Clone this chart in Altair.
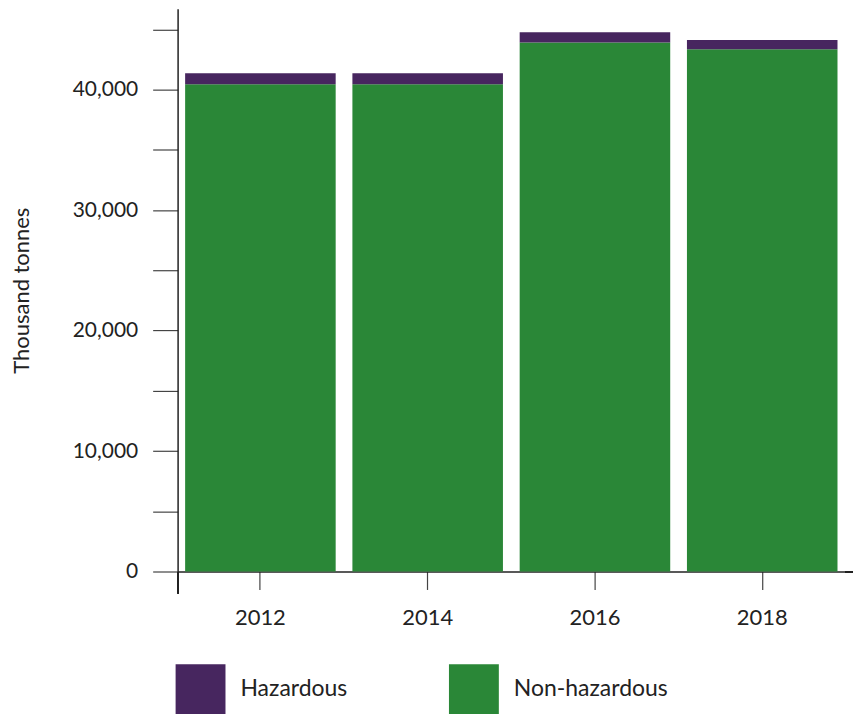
import altair as alt
import pandas as pd

years = ["2012", "2014", "2016", "2018"]
non_hazardous = [40450, 40450, 43900, 43350]
hazardous = [900, 900, 850, 760]
categories = ["Hazardous", "Non-hazardous"]
colors = ["#47265f", "#2a8737"]
y_ticks = [0, 5000, 10000, 15000, 20000, 25000, 30000, 35000, 40000, 45000]

rows = []
for i, yr in enumerate(years):
    rows.append({"year": yr, "type": "Non-hazardous", "value": non_hazardous[i], "ord": 0})
    rows.append({"year": yr, "type": "Hazardous", "value": hazardous[i], "ord": 1})
df = pd.DataFrame(rows)

FONT = "Lato"
W, H = 669, 564

bars = alt.Chart(df).mark_bar().encode(
    x=alt.X("year:N", sort=years,
            scale=alt.Scale(paddingInner=0.1, paddingOuter=0.045),
            axis=alt.Axis(title=None, labelAngle=0, labelFontSize=22, labelFont=FONT,
                          labelColor="#222", tickSize=18, tickColor="#444", tickWidth=1.2,
                          domainColor="#222", domainWidth=1.5, labelPadding=18)),
    y=alt.Y("value:Q", stack="zero",
            scale=alt.Scale(domain=[0, 46700], nice=False),
            axis=alt.Axis(title="Thousand tonnes", values=y_ticks,
                          labelExpr="datum.value % 10000 == 0 ? format(datum.value, ',') : ''",
                          labelFontSize=21, labelFont=FONT, labelColor="#222",
                          titleFontSize=22, titleFont=FONT, titleFontWeight="normal",
                          titleColor="#222", titlePadding=39,
                          tickSize=25, tickColor="#444", tickWidth=1.2,
                          domainColor="#222", domainWidth=1.5, labelPadding=15,
                          grid=False)),
    color=alt.Color("type:N",
                    scale=alt.Scale(domain=categories, range=colors),
                    legend=alt.Legend(title=None, orient="none", legendX=-2, legendY=657,
                                      direction="horizontal", columns=2, gridAlign="all",
                                      symbolType="square", symbolSize=2500,
                                      symbolStrokeWidth=0, symbolOpacity=1,
                                      labelFontSize=23, labelFont=FONT, labelColor="#222",
                                      labelOffset=15, labelLimit=300, columnPadding=54,
                                      padding=0)),
    order=alt.Order("ord:Q"),
)

ext_y = alt.Chart(df).mark_rule(color="#222", strokeWidth=1.5).encode(
    x=alt.value(0.5), y=alt.value(H + 0.5), y2=alt.value(H + 22)
)
ext_x = alt.Chart(df).mark_rule(color="#222", strokeWidth=1.5).encode(
    x=alt.value(W), x2=alt.value(W + 8), y=alt.value(H + 0.5)
)

chart = alt.layer(bars, ext_y, ext_x).properties(
    width=W, height=H, padding={"left": 2, "top": 0, "right": 0, "bottom": 0}
).configure_view(stroke=None)

chart.save("out.html", embed_options={"renderer": "svg", "actions": False})
